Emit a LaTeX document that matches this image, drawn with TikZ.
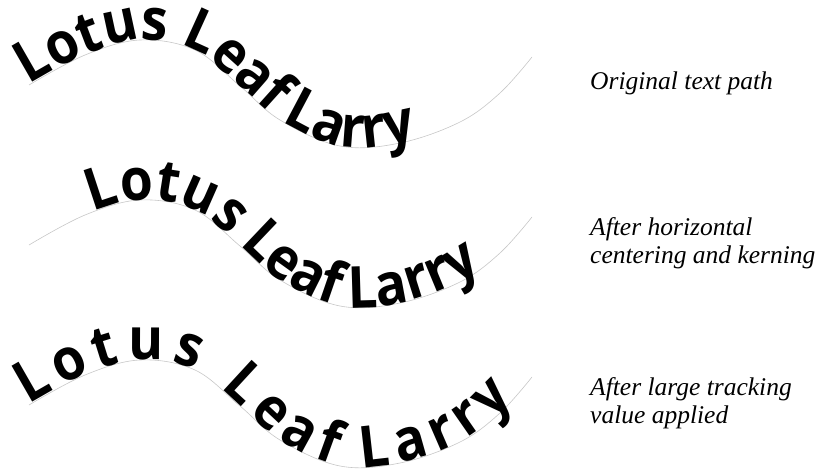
\documentclass[tikz,border=0pt]{standalone}
\usepackage{fontspec}
\setmainfont{Liberation Serif}
\newfontfamily\lotusfont{Open Sans}[FakeStretch=0.92]
\usetikzlibrary{decorations.text}
\tikzset{
  pathline/.style={draw=black!22, line width=0.6pt},
  lbl/.style={anchor=base west, inner sep=0pt, font=\fontsize{25.5}{28}\selectfont\itshape},
}
\newcommand{\wavepath}[1]{plot[smooth, tension=0.6] coordinates {(29,85+#1) (85,55+#1) (140,40+#1) (195,50+#1) (240,86+#1) (280,120+#1) (340,146+#1) (400,143+#1) (460,122+#1) (500,93+#1) (532,57+#1)}}
\newcommand{\lotustext}{|\lotusfont\bfseries\fontsize{58}{62}\selectfont|Lotus Leaf Larry}
\begin{document}
\begin{tikzpicture}[x=1pt,y=-1pt]
\useasboundingbox (0,0) rectangle (826,468);
% panel 1: original
\path[pathline] \wavepath{0};
\path[decorate, decoration={text along path, text={\lotustext}, text align=left}] \wavepath{0};
% panel 2: centered
\path[pathline] \wavepath{160};
\path[decorate, decoration={text along path, text={\lotustext}, text align=center}] \wavepath{160};
% panel 3: tracking
\path[pathline] \wavepath{320};
\path[decorate, decoration={text along path, text={\lotustext}, text align={fit to path, right indent=28pt}}] \wavepath{320};
% labels
\node[lbl] (l1) at (590,90) {Original text path};
\node[lbl] (l2a) at (590,235) {After horizontal};
\node[lbl] (l2b) at (590,263) {centering and kerning};
\node[lbl] (l3a) at (590,395) {After large tracking};
\node[lbl] (l3b) at (590,423) {value applied};
\end{tikzpicture}
\end{document}
